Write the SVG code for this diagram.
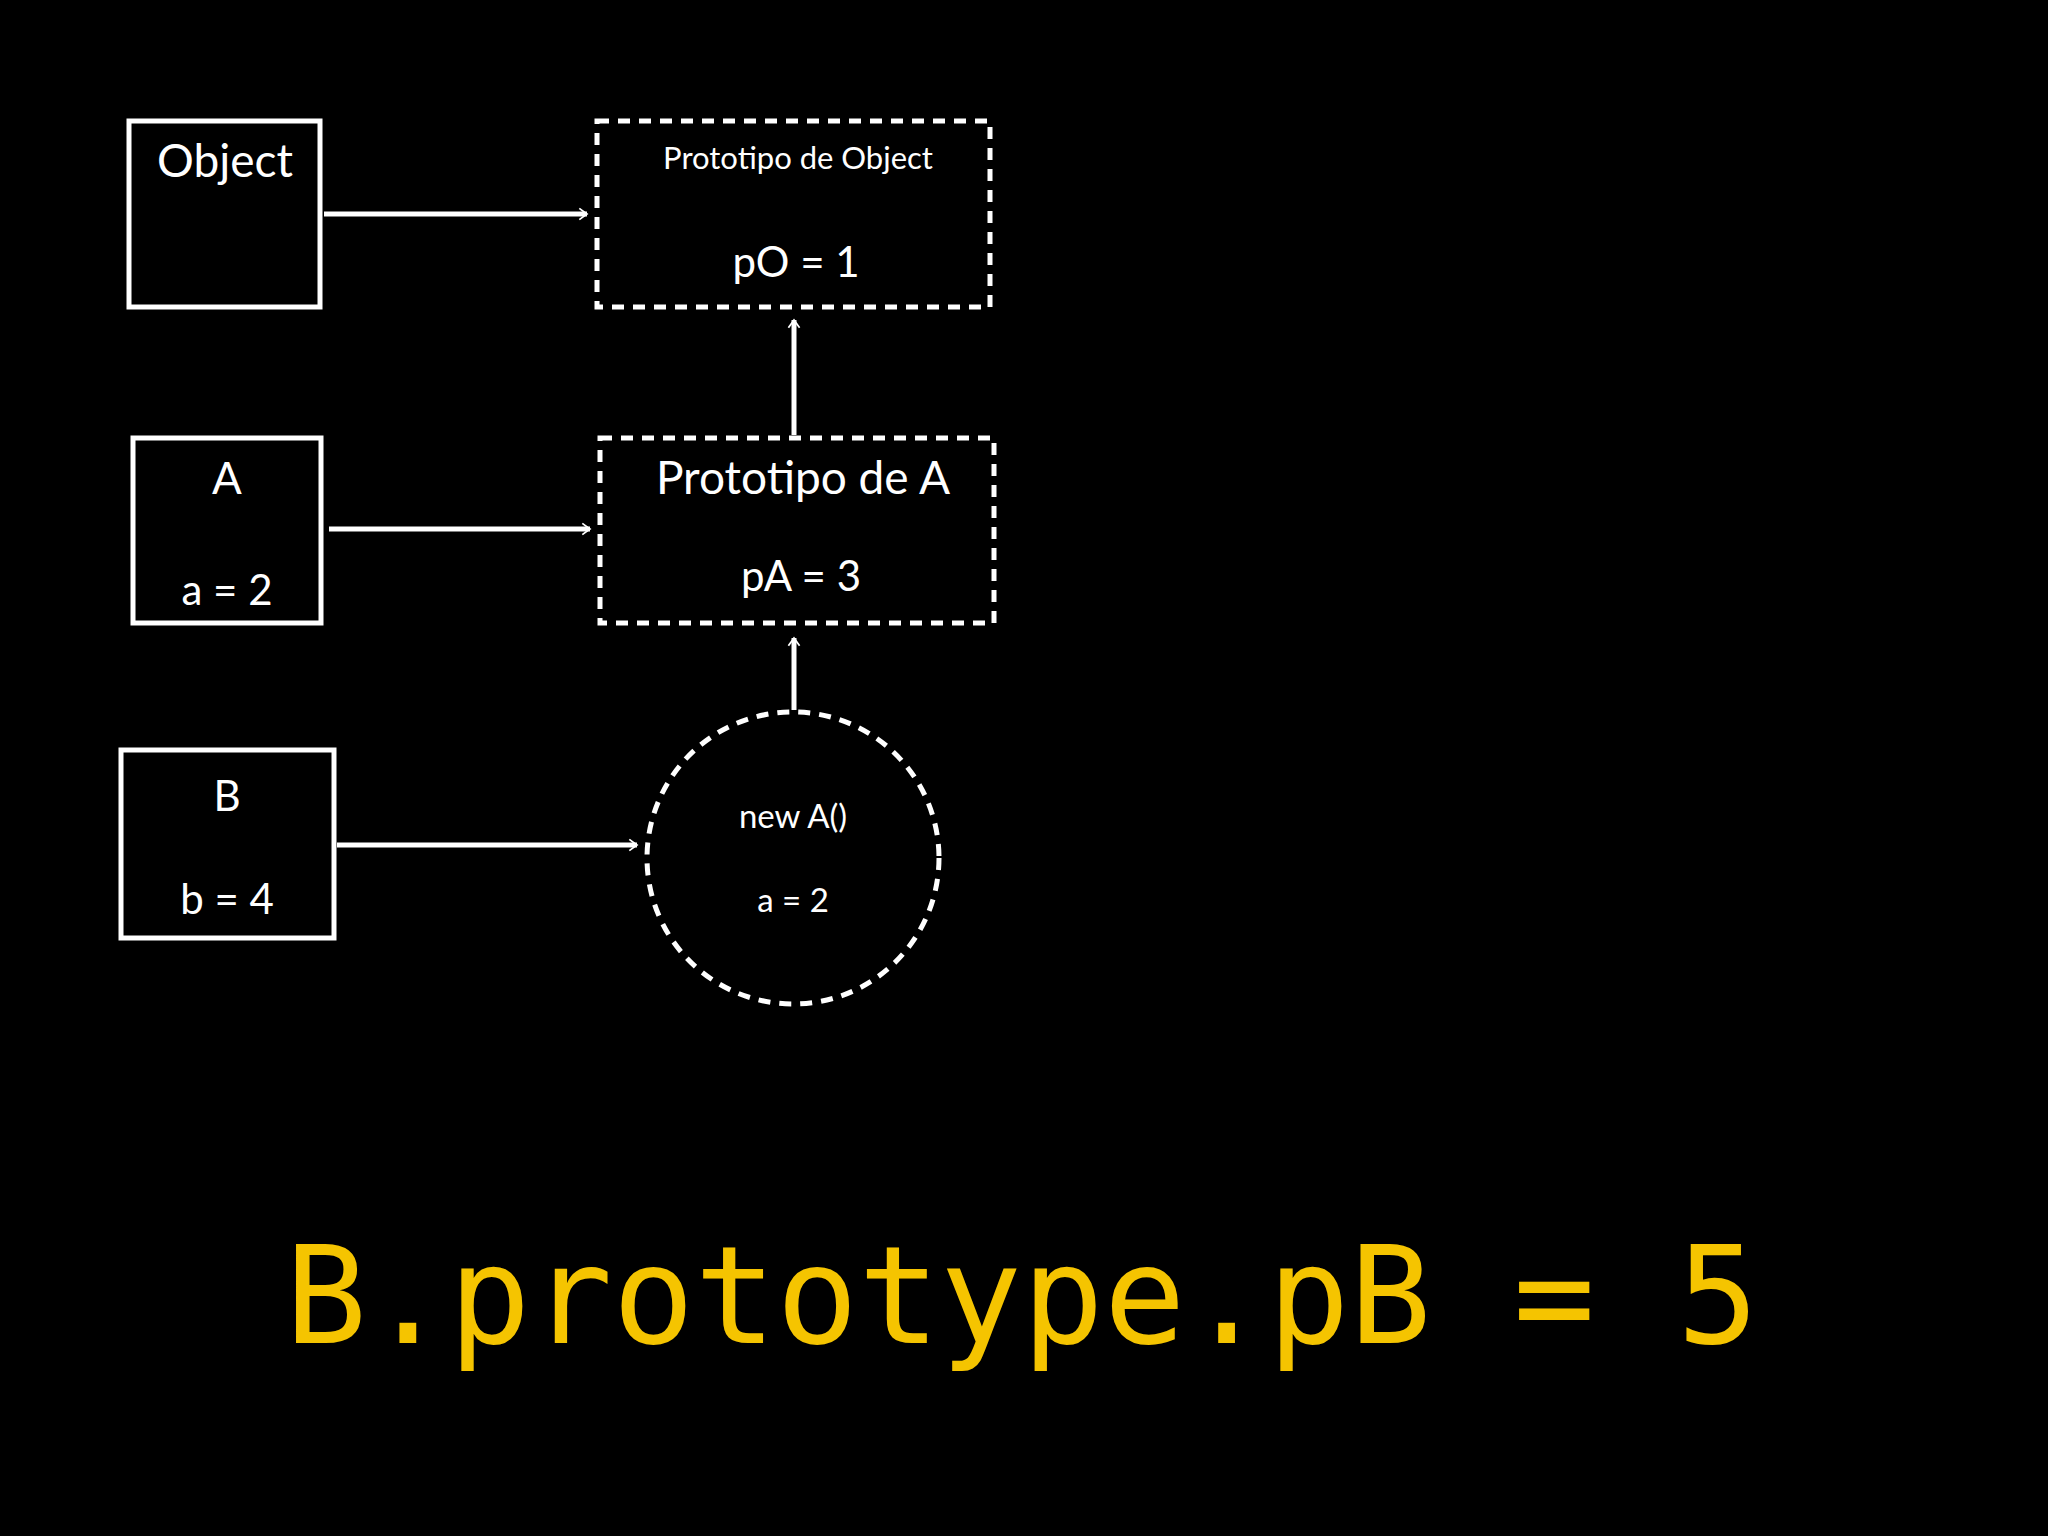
<svg xmlns="http://www.w3.org/2000/svg" width="2048" height="1536" viewBox="0 0 2048 1536">
<style>
.box{fill:none;stroke:#fff;stroke-width:5}
.dash{fill:none;stroke:#fff;stroke-width:5;stroke-dasharray:12 9}
.t{fill:#fff;font-family:Lato,"Open Sans",sans-serif;text-anchor:middle}
.c{stroke:#fff;stroke-width:5;fill:none;marker-end:url(#a)}
</style>
<defs><marker id="a" viewBox="0 0 20 20" refX="18" refY="10" markerWidth="7" markerHeight="7" markerUnits="userSpaceOnUse" orient="auto" overflow="visible"><path d="M-4,-6 L18,10 L-4,26" fill="none" stroke="#fff" stroke-width="5"/></marker></defs>
<rect width="2048" height="1536" fill="#000"/>
<g id="object"><rect class="box" x="129" y="121" width="191" height="186"/><text class="t" x="225" y="177" font-size="46">Object</text></g>
<g id="protoObject"><rect class="dash" x="597" y="121" width="393" height="186"/><text class="t" x="798" y="169" font-size="31">Prototipo de Object</text><text class="t" x="796" y="277" font-size="42">pO = 1</text></g>
<g id="A"><rect class="box" x="133" y="438" width="188" height="185"/><text class="t" x="227" y="494" font-size="44">A</text><text class="t" x="227" y="605" font-size="42">a = 2</text></g>
<g id="protoA"><rect class="dash" x="600" y="438" width="394" height="185"/><text class="t" x="803" y="494" font-size="46">Prototipo de A</text><text class="t" x="801" y="591" font-size="42">pA = 3</text></g>
<g id="B"><rect class="box" x="121" y="750" width="213" height="188"/><text class="t" x="227" y="811" font-size="42">B</text><text class="t" x="227" y="914" font-size="42">b = 4</text></g>
<g id="newA"><circle class="dash" cx="793" cy="858" r="146"/><text class="t" x="793" y="828" font-size="33">new A()</text><text class="t" x="793" y="912" font-size="33">a = 2</text></g>
<g id="connectors">
<path class="c" d="M324,214 H587"/>
<path class="c" d="M329,529 H590"/>
<path class="c" d="M337,845 H637"/>
<path class="c" d="M794,435 V320"/>
<path class="c" d="M794,710 V638"/>
</g>
<text x="1022" y="1343" font-family="'DejaVu Sans Mono',monospace" font-size="136" fill="#f5c400" text-anchor="middle">B.prototype.pB = 5</text>
</svg>
